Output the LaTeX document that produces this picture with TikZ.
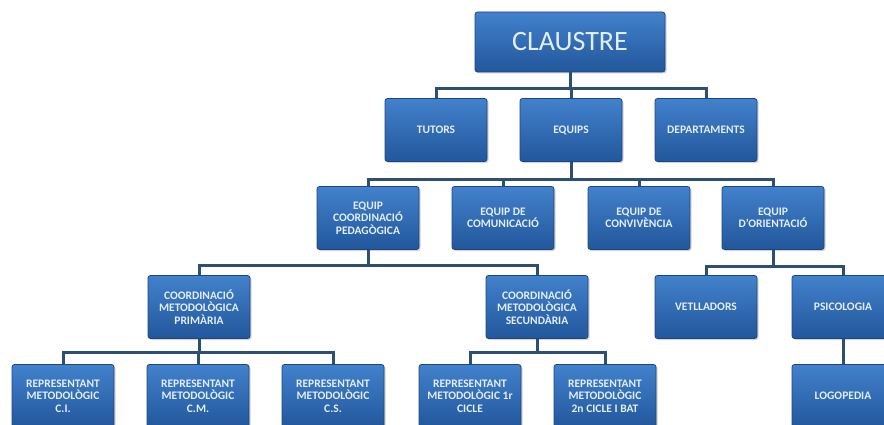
\documentclass[tikz,border=0pt]{standalone}
\usepackage{fontspec}
\setmainfont{Carlito}
\usepackage{tikz}
\usetikzlibrary{shadows}

\definecolor{boxtop}{HTML}{4281CC}
\definecolor{boxbot}{HTML}{22579B}
\definecolor{boxedge}{HTML}{1B4682}
\definecolor{boxtext}{HTML}{E3EEF9}
\definecolor{linecol}{HTML}{2E4F74}

\begin{document}
\begin{tikzpicture}[x=1pt,y=-1pt,
    unitat/.style={draw=boxedge,
                   line width=0.8pt,
                   rounded corners=2.5pt,
                   top color=boxtop,
                   bottom color=boxbot,
                   text=boxtext,
                   font=\bfseries\fontsize{11.5}{12.5}\selectfont,
                   align=center,
                   inner sep=1pt,
                   minimum width=102pt,
                   minimum height=63pt,
                   drop shadow={shadow xshift=1.5pt,shadow yshift=-1.5pt,opacity=0.35}},
    enllac/.style={draw=linecol, line width=3pt}]
    \useasboundingbox (0,0) rectangle (884,425);

    \node[unitat,
          minimum width=190pt,
          minimum height=60pt,
          font=\fontsize{28}{30}\selectfont] (claustre) at (570,42) {CLAUSTRE};

    \node[unitat] (tutors)       at (436,130) {TUTORS};
    \node[unitat] (equips)       at (571,130) {EQUIPS};
    \node[unitat] (departaments) at (706,130) {DEPARTAMENTS};

    \node[unitat] (pedagogica)   at (368,218) {EQUIP\\COORDINACIÓ\\PEDAGÒGICA};
    \node[unitat] (comunicacio)  at (503,218) {EQUIP DE\\COMUNICACIÓ};
    \node[unitat] (convivencia)  at (639,218) {EQUIP DE\\CONVIVÈNCIA};
    \node[unitat] (orientacio)   at (773,218) {EQUIP\\D'ORIENTACIÓ};

    \node[unitat] (primaria)     at (199,307) {COORDINACIÓ\\METODOLÒGICA\\PRIMÀRIA};
    \node[unitat] (secundaria)   at (537,307) {COORDINACIÓ\\METODOLÒGICA\\SECUNDÀRIA};
    \node[unitat] (vetlladors)   at (706,307) {VETLLADORS};
    \node[unitat] (psicologia)   at (843,307) {PSICOLOGIA};

    \node[unitat] (reprci)       at (63,396)  {REPRESENTANT\\METODOLÒGIC\\C.I.};
    \node[unitat] (reprcm)       at (198,396) {REPRESENTANT\\METODOLÒGIC\\C.M.};
    \node[unitat] (reprcs)       at (333,396) {REPRESENTANT\\METODOLÒGIC\\C.S.};
    \node[unitat] (reprcicle)    at (470,396) {REPRESENTANT\\METODOLÒGIC 1r\\CICLE};
    \node[unitat] (reprbat)      at (605,396) {REPRESENTANT\\METODOLÒGIC\\2n CICLE I BAT};
    \node[unitat] (logopedia)    at (843,396) {LOGOPEDIA};

    \foreach \c in {tutors,equips,departaments}
        \draw[enllac] (claustre.south) -- ++(0,16) -| (\c.north);
    \foreach \c in {pedagogica,comunicacio,convivencia,orientacio}
        \draw[enllac] (equips.south) -- ++(0,18) -| (\c.north);
    \foreach \c in {primaria,secundaria}
        \draw[enllac] (pedagogica.south) -- ++(0,16) -| (\c.north);
    \foreach \c in {vetlladors,psicologia}
        \draw[enllac] (orientacio.south) -- ++(0,17) -| (\c.north);
    \foreach \c in {reprci,reprcm,reprcs}
        \draw[enllac] (primaria.south) -- ++(0,14) -| (\c.north);
    \foreach \c in {reprcicle,reprbat}
        \draw[enllac] (secundaria.south) -- ++(0,14) -| (\c.north);
    \draw[enllac] (psicologia.south) -- (logopedia.north);
\end{tikzpicture}
\end{document}
